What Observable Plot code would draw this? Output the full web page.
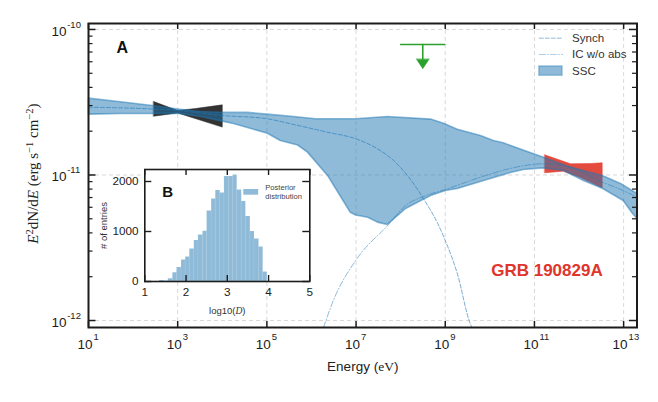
<!DOCTYPE html>
<html>
<head>
<meta charset="utf-8">
<script src="https://cdn.jsdelivr.net/npm/d3@7"></script>
<script src="https://cdn.jsdelivr.net/npm/@observablehq/plot@0.6"></script>
<style>
html,body{margin:0;padding:0;background:#fff}
#wrap{position:relative;width:658px;height:402px;overflow:hidden}
#wrap svg{position:absolute;background:transparent}
</style>
</head>
<body>
<div id="wrap"></div>
<script>
const upperLogE = [1.00,1.67,2.43,3.00,3.51,4.00,4.565,5.01,5.60,6.09,6.99,7.70,8.67,8.96,9.27,9.79,10.08,10.30,11.20,11.81,12.52,12.93,13.30];
const upperLogF = [-10.472,-10.495,-10.522,-10.546,-10.564,-10.570,-10.570,-10.582,-10.598,-10.614,-10.614,-10.598,-10.616,-10.644,-10.685,-10.729,-10.763,-10.779,-10.878,-10.946,-11.003,-11.058,-11.127];
const lowerLogE = [1.00,1.72,2.43,3.00,3.51,4.00,4.25,5.01,5.30,5.69,5.91,6.36,6.87,6.99,7.26,7.48,7.70,8.11,8.67,9.00,9.27,9.86,10.46,10.75,11.20,11.65,12.10,12.52,12.99,13.20,13.30];
const lowerLogF = [-10.582,-10.577,-10.577,-10.575,-10.598,-10.630,-10.646,-10.713,-10.763,-10.794,-10.843,-11.003,-11.256,-11.275,-11.290,-11.324,-11.340,-11.230,-11.141,-11.107,-11.093,-11.038,-10.983,-10.962,-10.951,-10.969,-11.038,-11.091,-11.175,-11.265,-11.299];
const synchLogE = [1.00,3.00,4.00,4.97,5.60,6.36,6.99,7.48,7.84,8.15,8.51,8.83,9.00,9.27,9.56,9.60];
const synchLogF = [-10.534,-10.557,-10.591,-10.612,-10.653,-10.706,-10.751,-10.820,-10.900,-11.003,-11.162,-11.333,-11.450,-11.677,-12.021,-12.048];
const icLogE = [6.27,6.49,6.99,7.73,8.11,8.51,9.00,9.86,10.46,11.20,11.81,12.52,12.99,13.30];
const icLogF = [-12.048,-11.863,-11.588,-11.340,-11.210,-11.148,-11.100,-11.008,-10.955,-10.923,-10.946,-11.049,-11.107,-11.153];
const xrayLogE = [2.46,3.00,3.40,4.00,4.00,3.00,2.46];
const xrayLogF = [-10.495,-10.557,-10.543,-10.518,-10.671,-10.574,-10.596];
const tevLogE = [11.23,11.81,12.26,12.52,12.52,12.03,11.65,11.23];
const tevLogF = [-10.861,-10.923,-10.921,-10.916,-11.088,-11.017,-10.974,-10.985];
const limitBarLogE = [8.00,8.99];
const limitBarLogF = [-10.103,-10.103];
const limitShaftLogE = [8.496,8.496];
const limitShaftLogF = [-10.103,-10.204];
const limitHeadLogE = [8.354,8.496,8.639];
const limitHeadLogF = [-10.204,-10.27,-10.204];
const xTickExp = [1,3,5,7,9,11,13];
const yTickExp = [-10,-11,-12];
const yMinorMult = [2,3,4,5,6,7,8,9];
const histEdges = [1.36,1.47,1.57,1.68,1.78,1.89,1.99,2.09,2.20,2.30,2.41,2.51,2.62,2.72,2.83,2.93,3.04,3.14,3.24,3.35,3.45,3.56,3.66,3.77,3.87,3.97];
const histCounts = [20,10,55,175,280,430,490,650,820,930,1005,1410,1650,1820,1770,2100,2100,2130,1830,1600,1300,1000,850,690,190];
const insetXTicks = [1,2,3,4,5];
const insetYTicks = [0,1000,2000];

const BLUE = "#1f77b4", INK = "#1c1c1c", SANS = "Liberation Sans, Arial, sans-serif", SERIF = "Liberation Serif, serif";
const pts = (xs, ys) => xs.map((e, i) => ({x: 10 ** e, y: 10 ** ys[i]}));
const band = pts(upperLogE, upperLogF).concat(pts(lowerLogE, lowerLogF).reverse());
const xTicks = xTickExp.map(k => 10 ** k);
const yTicks = yTickExp.map(k => 10 ** k);
const yMinor = [-11, -12].flatMap(k => yMinorMult.map(m => m * 10 ** k));
const expOf = v => String(Math.round(Math.log10(v)));

function rich(svg, plain, parts) {
  const t = [...svg.querySelectorAll("text")].find(e => e.textContent === plain);
  if (!t) return;
  t.textContent = "";
  let raised = false;
  for (const [s, o = {}] of parts) {
    const ts = document.createElementNS("http://www.w3.org/2000/svg", "tspan");
    ts.textContent = s;
    if (o.font) ts.setAttribute("font-family", o.font);
    if (o.italic) ts.setAttribute("font-style", "italic");
    if (o.sup) { ts.setAttribute("font-size", "10.5"); ts.setAttribute("dy", "-5.5"); raised = true; }
    else if (raised) { ts.setAttribute("dy", "5.5"); raised = false; }
    t.appendChild(ts);
  }
}

const mainLines = {x: "x", y: "y"};
const main = Plot.plot({
  width: 658, height: 402,
  marginLeft: 88, marginRight: 21.5, marginTop: 23, marginBottom: 75,
  style: {fontFamily: SANS, background: "transparent", color: INK},
  x: {type: "log", domain: [10 ** 1, 10 ** 13.3]},
  y: {type: "log", domain: [10 ** -12.048, 10 ** -9.959]},
  marks: [
    Plot.ruleX(xTicks, {x: d => d, stroke: "#d9d9d9", strokeWidth: 1, strokeDasharray: "4,3"}),
    Plot.ruleY(yTicks, {y: d => d, stroke: "#d9d9d9", strokeWidth: 1, strokeDasharray: "4,3"}),
    Plot.line(pts(xrayLogE, xrayLogF), {...mainLines, fill: "#222", fillOpacity: 0.92, stroke: "#222", strokeWidth: 0.5, curve: "linear-closed"}),
    Plot.line(pts(tevLogE, tevLogF), {...mainLines, fill: "#e23b2e", fillOpacity: 0.92, stroke: "#e23b2e", strokeWidth: 0.5, curve: "linear-closed"}),
    Plot.line(band, {...mainLines, fill: BLUE, fillOpacity: 0.5, stroke: BLUE, strokeOpacity: 0.5, strokeWidth: 1.6, curve: "linear-closed"}),
    Plot.line(pts(synchLogE, synchLogF), {...mainLines, stroke: BLUE, strokeOpacity: 0.6, strokeWidth: 1, strokeDasharray: "4,2", curve: "monotone-x"}),
    Plot.line(pts(icLogE, icLogF), {...mainLines, stroke: BLUE, strokeOpacity: 0.5, strokeWidth: 1, strokeDasharray: "6,2,1,2", curve: "monotone-x"}),
    Plot.line(pts(limitBarLogE, limitBarLogF), {...mainLines, stroke: "#2ca02c", strokeWidth: 1.6}),
    Plot.line(pts(limitShaftLogE, limitShaftLogF), {...mainLines, stroke: "#2ca02c", strokeWidth: 1.6}),
    Plot.line(pts(limitHeadLogE, limitHeadLogF), {...mainLines, fill: "#2ca02c", stroke: "#2ca02c", strokeWidth: 0.5, curve: "linear-closed"}),
    // legend
    Plot.line(pts([11.11, 11.63], [-10.06, -10.06]), {...mainLines, stroke: BLUE, strokeOpacity: 0.5, strokeWidth: 1, strokeDasharray: "4,2"}),
    Plot.line(pts([11.11, 11.63], [-10.172, -10.172]), {...mainLines, stroke: BLUE, strokeOpacity: 0.35, strokeWidth: 1.2, strokeDasharray: "6,2,1,2"}),
    Plot.rect([{}], {x1: () => 10 ** 11.11, x2: () => 10 ** 11.63, y1: () => 10 ** -10.254, y2: () => 10 ** -10.318, fill: BLUE, fillOpacity: 0.5, stroke: BLUE, strokeOpacity: 0.35, strokeWidth: 1.6}),
    Plot.text(["Synch", "IC w/o abs", "SSC"], {x: () => 10 ** 11.845, y: (d, i) => 10 ** [-10.06, -10.172, -10.287][i], text: d => d, textAnchor: "start", fontSize: 11.5, fill: "#333"}),
    Plot.text(["A"], {x: () => 10 ** 1.758, y: () => 10 ** -10.124, text: d => d, fontSize: 16, fontWeight: "bold", fill: "#111"}),
    Plot.text(["GRB 190829A"], {x: () => 10 ** 11.28, y: () => 10 ** -11.656, text: d => d, fontSize: 17, fontWeight: "bold", fill: "#e0352b"}),
    // ticks
    Plot.tickX(xTicks, {x: d => d, insetTop: 298, stroke: INK, strokeWidth: 1.5}),
    Plot.tickX(xTicks, {x: d => d, insetBottom: 298, stroke: INK, strokeWidth: 1.5}),
    Plot.tickY(yTicks, {y: d => d, insetRight: 541, stroke: INK, strokeWidth: 1.5}),
    Plot.tickY(yTicks, {y: d => d, insetLeft: 541, stroke: INK, strokeWidth: 1.5}),
    Plot.tickY(yMinor, {y: d => d, insetRight: 544, stroke: INK, strokeWidth: 1.2}),
    Plot.tickY(yMinor, {y: d => d, insetLeft: 544, stroke: INK, strokeWidth: 1.2}),
    Plot.frame({stroke: INK, strokeWidth: 2}),
    // axis labels
    Plot.axisX(xTicks, {anchor: "bottom", tickSize: 0, tickPadding: 12, tickFormat: () => "10", textAnchor: "end", dx: 4, fontSize: 13.5, label: null, fill: INK}),
    Plot.axisX(xTicks, {anchor: "bottom", tickSize: 0, tickPadding: 6, tickFormat: expOf, textAnchor: "start", dx: 5, fontSize: 9.5, label: null, fill: INK}),
    Plot.axisY(yTicks, {anchor: "left", tickSize: 0, tickPadding: 22, tickFormat: () => "10", dy: 2, fontSize: 13.5, label: null, fill: INK}),
    Plot.axisY(yTicks, {anchor: "left", tickSize: 0, tickPadding: 21.3, tickFormat: expOf, textAnchor: "start", dy: -5, fontSize: 9.5, label: null, fill: INK}),
    Plot.text(["Energy (eV)"], {frameAnchor: "bottom", dy: 39, lineAnchor: "middle", text: d => d, fontSize: 13.5, fill: "#222"}),
    Plot.text(["E2dN/dE (erg s\u22121 cm\u22122)"], {frameAnchor: "left", dx: -55, dy: -2, rotate: -90, textAnchor: "middle", text: d => d, fontSize: 15, fill: "#222", fontFamily: SERIF})
  ]
});
rich(main, "Energy (eV)", [["Energy ("], ["eV", {font: SERIF}], [")"]]);
rich(main, "E2dN/dE (erg s\u22121 cm\u22122)", [
  ["E", {italic: true}], ["2", {sup: true}], ["dN", {}], ["/d"], ["E", {italic: true}],
  [" (erg s"], ["\u22121", {sup: true}], [" cm"], ["\u22122", {sup: true}], [")"]
]);
main.style.left = "0px"; main.style.top = "0px";

const inset = Plot.plot({
  width: 230, height: 165,
  marginLeft: 54.3, marginRight: 10.7, marginTop: 9, marginBottom: 44,
  style: {fontFamily: SANS, background: "transparent", color: INK},
  x: {domain: [1, 5]},
  y: {domain: [0, 2240]},
  marks: [
    Plot.frame({fill: "white"}),
    Plot.rectY(histCounts, {x1: (d, i) => histEdges[i], x2: (d, i) => histEdges[i + 1], y1: 0, y2: d => d, fill: BLUE, fillOpacity: 0.5, stroke: "white", strokeOpacity: 0.08}),
    Plot.rect([{}], {x1: () => 3.40, x2: () => 3.76, y1: () => 1726, y2: () => 1840, fill: BLUE, fillOpacity: 0.5}),
    Plot.text(["Posterior\ndistribution"], {x: () => 3.92, y: () => 1793, text: d => d, textAnchor: "start", fontSize: 7.6, lineHeight: 1.15, fill: "#444"}),
    Plot.text(["B"], {x: () => 1.555, y: () => 1786, text: d => d, fontSize: 15, fontWeight: "bold", fill: "#111"}),
    Plot.tickX(insetXTicks, {x: d => d, insetTop: 106, stroke: INK, strokeWidth: 1.4}),
    Plot.tickX(insetXTicks, {x: d => d, insetBottom: 106, stroke: INK, strokeWidth: 1.4}),
    Plot.tickY(insetYTicks, {y: d => d, insetRight: 158, stroke: INK, strokeWidth: 1.4}),
    Plot.tickY(insetYTicks, {y: d => d, insetLeft: 158, stroke: INK, strokeWidth: 1.4}),
    Plot.frame({stroke: INK, strokeWidth: 1.6}),
    Plot.axisX(insetXTicks, {anchor: "bottom", tickSize: 0, tickPadding: 6.5, tickFormat: d => String(d), fontSize: 11.7, label: null, fill: INK}),
    Plot.axisY(insetYTicks, {anchor: "left", tickSize: 0, tickPadding: 6.3, tickFormat: d => String(d), fontSize: 11.7, label: null, fill: INK}),
    Plot.text(["log10(D)"], {frameAnchor: "bottom", dy: 29, lineAnchor: "middle", text: d => d, fontSize: 9.5, fill: "#333"}),
    Plot.text(["# of entries"], {frameAnchor: "left", dx: -41.3, rotate: -90, textAnchor: "middle", text: d => d, fontSize: 9.5, fill: "#333"})
  ]
});
rich(inset, "log10(D)", [["log10("], ["D", {font: SERIF, italic: true}], [")"]]);
inset.style.left = "90px"; inset.style.top = "160px";

const wrap = document.getElementById("wrap");
wrap.append(main, inset);
</script>
</body>
</html>
